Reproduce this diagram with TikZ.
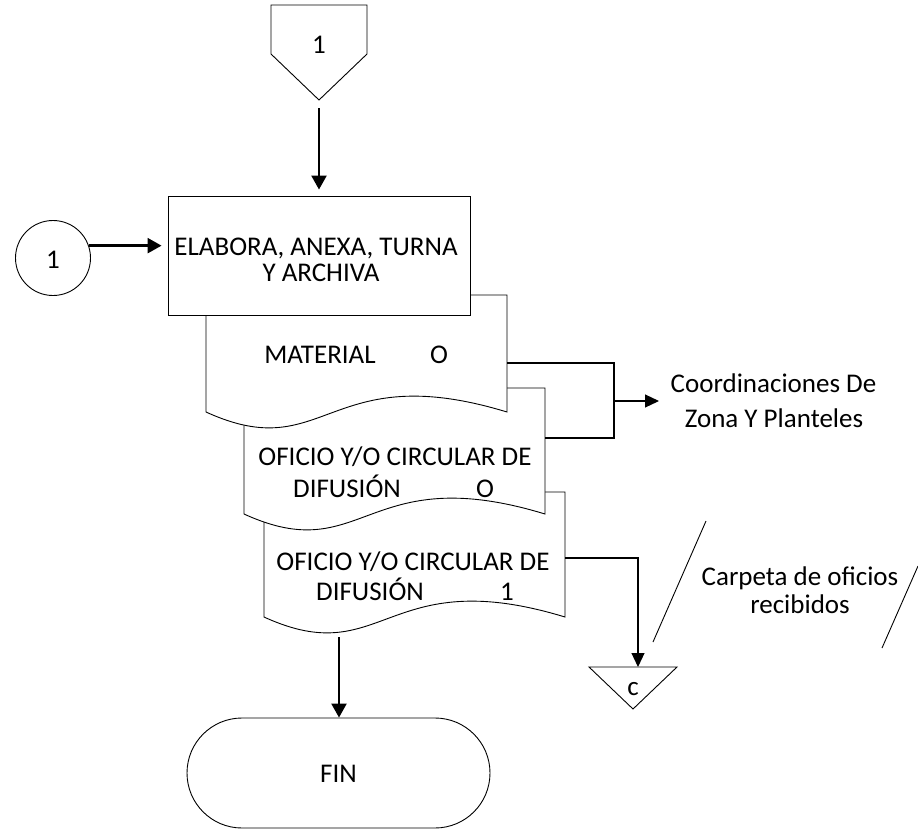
\documentclass[tikz,border=0pt]{standalone}
\usepackage{fontspec}
\setmainfont{Carlito}
\usetikzlibrary{arrows.meta}

% document symbol: left x, top y, right x, bottom y (wavy bottom edge)
\newcommand\docshape[4]{%
  \draw[outline] (#1,#2) -- (#3,#2) -- (#3,#4)
    .. controls ({#3-0.6*(#3-#1)},{#4-55}) and ({#1+0.4*(#3-#1)},{#4+55}) .. (#1,#4) -- cycle;}

\begin{document}
\begin{tikzpicture}[x=1pt,y=-1pt,
  outline/.style={draw=black,line width=0.9pt,fill=white},
  lbl/.style={anchor=base,inner sep=0pt,font=\fontsize{27}{32}\selectfont},
  flow/.style={line width=2.4pt,-{Triangle[length=14pt,width=15pt]}},
  link/.style={line width=1.1pt},
  linkarrow/.style={link,-{Triangle[length=14pt,width=13pt]}},
  slant/.style={line width=0.9pt},
]
\useasboundingbox (0,0) rectangle (918,830);

% off-page connector at the top
\draw[outline] (271,5) -- (367,5) -- (367,54) -- (319,100) -- (271,54) -- cycle;
\coordinate (offtip) at (319,100);
\node[lbl] (offlbl) at (319,53) {1};

% stacked documents (back to front)
\docshape{264}{492}{565}{617}
\docshape{244}{388}{545}{514}
\docshape{206}{295}{507}{412}

% process box
\node[outline,minimum width=302pt,minimum height=119pt,inner sep=0pt] (act) at (319,255.5) {};
\node[lbl] (acttxt1) at (316,255) {ELABORA, ANEXA, TURNA};
\node[lbl] (acttxt2) at (321,281) {Y ARCHIVA};

% document texts
\node[lbl] (d1txt) at (320,363) {MATERIAL};
\node[lbl] (d1num) at (439,363) {O};
\node[lbl] (d2txt1) at (395,465) {OFICIO Y/O CIRCULAR DE};
\node[lbl] (d2txt2) at (347,497) {DIFUSIÓN};
\node[lbl] (d2num) at (485,497) {O};
\node[lbl] (d3txt1) at (413,570) {OFICIO Y/O CIRCULAR DE};
\node[lbl] (d3txt2) at (370,600) {DIFUSIÓN};
\node[lbl] (d3num) at (507,600) {1};

% on-page connector
\node[outline,circle,minimum size=75pt,inner sep=0pt] (con) at (53,258) {};
\node[lbl] (conlbl) at (53,268) {1};

% terminal
\node[outline,rounded corners=55pt,minimum width=303pt,minimum height=110pt,inner sep=0pt] (fin) at (338.5,773) {};
\node[lbl] (finlbl) at (338.5,782) {FIN};

% archive
\draw[outline] (589,667) -- (677,667) -- (633,709) -- cycle;
\coordinate (archtop) at (638,667);
\node[lbl] (archlbl) at (633,695) {c};

% main flow
\draw[flow,shorten <=8pt,shorten >=6pt] (offtip) -- (act.north);
\draw[flow,shorten >=6pt] (con.19) -- (con.19 -| act.west);
\coordinate (d3out) at (339,637);
\draw[flow] (d3out) -- (d3out |- fin.north);

% distribution of the first two documents
\coordinate (d1e) at (507,363);
\coordinate (d2e) at (545,438);
\coordinate (bus) at (614,401);
\coordinate (destin) at (659,401);
\draw[link] (d1e) -| (bus) |- (d2e);
\draw[linkarrow] (bus) -- (destin);
\node[lbl] (dest1) at (773.5,392) {Coordinaciones De};
\node[lbl] (dest2) at (774,427) {Zona Y Planteles};

% filing of the third document
\coordinate (d3e) at (565,558);
\draw[linkarrow] (d3e) -| (archtop);

% folder annotation
\draw[slant] (653,642) -- (706,521);
\draw[slant] (882,648) -- (918,566);
\node[lbl] (fold1) at (800,585) {Carpeta de oficios};
\node[lbl] (fold2) at (800,613) {recibidos};
\end{tikzpicture}
\end{document}
